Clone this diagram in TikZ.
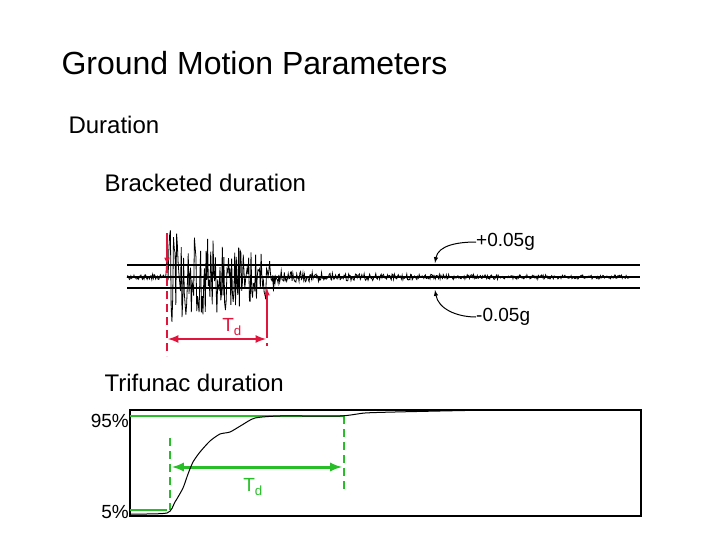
\documentclass[tikz,border=0pt]{standalone}
\usepackage{fontspec}
\setmainfont{Liberation Sans}
\begin{document}
\begin{tikzpicture}[x=1pt,y=-1pt,
    redline/.style={draw={rgb,255:red,225;green,20;blue,60},line width=1.5pt},
    grnline/.style={draw={rgb,255:red,40;green,190;blue,40},line width=1.3pt},
    longdash/.style={dash pattern=on 8pt off 5pt},
    lbl/.style={font=\fontsize{19}{21}\selectfont,inner sep=0pt}]
    \useasboundingbox (0,0) rectangle (720,540);
    % titles
    \node[anchor=west,font=\fontsize{32}{36}\selectfont] (title) at (58,63) {Ground Motion Parameters};
    \node[anchor=west,font=\fontsize{24}{28}\selectfont] (dur) at (65,125) {Duration};
    \node[anchor=west,font=\fontsize{24}{28}\selectfont] (brk) at (101,183) {Bracketed duration};
    \node[anchor=west,font=\fontsize{24}{28}\selectfont] (tri) at (101,383) {Trifunac duration};

    % bracketed duration record
    \draw[line width=1.2pt] (127,265) -- (640,265);
    \draw[line width=1.2pt] (127,277) -- (640,277);
    \draw[line width=1.2pt] (127,288) -- (640,288);
    \pgfmathsetseed{7}
    \draw[line width=0.8pt] plot[domain=127:630,samples=650]
        (\x,{277+rand*(\x<166 ? 2.5 : (\x<275 ? 50*(1-(\x-166)/180) : 2+5*exp(-(\x-275)/80)))});

    % red bracket
    \coordinate (r1) at (167,233);
    \coordinate (r2) at (167,265);
    \coordinate (r3) at (267,288);
    \coordinate (r4) at (267,330);
    \draw[redline,longdash] (r2) -- (167,356);
    \draw[redline,->,>=latex] (r1) -- (r2);
    \draw[redline,->,>=latex] (r4) -- (r3);
    \draw[redline,longdash] (r4) -- (267,346);
    \draw[redline,line width=2.5pt,<->,>=latex] (168,339) -- (266,339);
    \node[lbl,text={rgb,255:red,225;green,20;blue,60}] (tdr) at (232,327) {T\textsubscript{d}};

    % limits
    \node[lbl,anchor=west] (plus) at (476,242) {+0.05g};
    \node[lbl,anchor=west] (minus) at (476,317) {-0.05g};
    \draw[line width=1pt,->,>=latex] (plus.west) to[out=180,in=80] (435,263);
    \draw[line width=1pt,->,>=latex] (minus.west) to[out=180,in=-80] (435,290);

    % Trifunac plot
    \draw[line width=1.2pt] (130,410) rectangle (641,516);
    \draw[grnline] (130,416) -- (344,416);
    \draw[grnline] (130,510) -- (167,510);
    \draw[grnline,longdash] (170,438) -- (170,510);
    \draw[grnline,longdash] (344,416) -- (344,490);
    \draw[grnline,line width=3pt,<->,>=latex] (172,467) -- (342,467);
    \node[lbl,text={rgb,255:red,40;green,190;blue,40}] (tdg) at (253,487) {T\textsubscript{d}};
    \draw[line width=1pt] plot[smooth,tension=0.4] coordinates {(130,514) (167,513) (175,502) (183,488) (188,474)
        (193,462) (200,452) (210,441) (220,434) (230,432) (242,425) (255,418) (280,416)
        (340,416) (365,413) (395,412) (440,411) (490,410)};
    \node[lbl,anchor=east] (p95) at (129,421) {95\%};
    \node[lbl,anchor=east] (p5) at (129,512) {5\%};
\end{tikzpicture}
\end{document}
